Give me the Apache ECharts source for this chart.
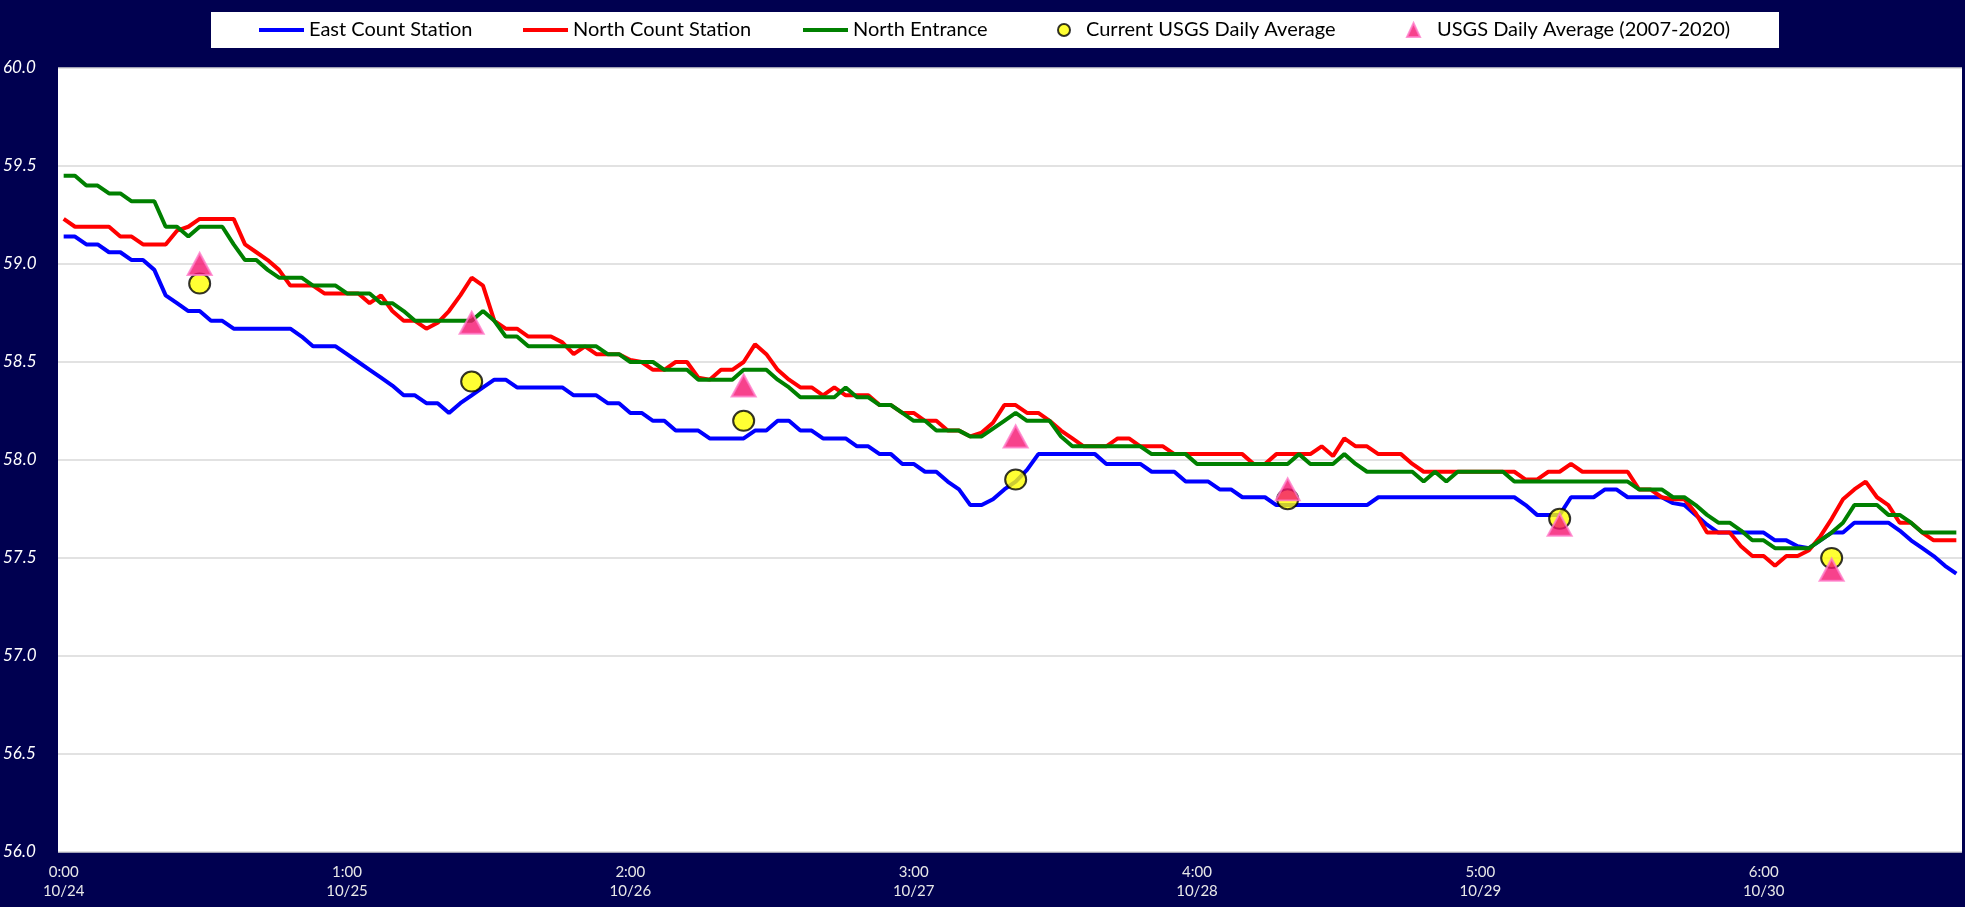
<!DOCTYPE html>
<html>
<head>
<meta charset="utf-8">
<script src="https://cdn.jsdelivr.net/npm/echarts@6/dist/echarts.min.js"></script>
<style>
    html, body { margin: 0; padding: 0; background: #000050; }
    #main { width: 1965px; height: 907px; }
</style>
</head>
<body>
<div id="main"></div>
<script>
// hourly readings, 10/24 0:00 - 10/30 23:00
var hours = [];
for (var d = 0; d < 7; d++) {
    for (var h = 0; h < 24; h++) {
        hours.push('10/' + (24 + d) + ' ' + h + ':00');
    }
}

var eastCount = [
    59.14, 59.14, 59.10, 59.10, 59.06, 59.06, 59.02, 59.02, 58.97, 58.84,
    58.80, 58.76, 58.76, 58.71, 58.71, 58.67, 58.67, 58.67, 58.67, 58.67,
    58.67, 58.63, 58.58, 58.58, 58.58, 58.54, 58.50, 58.46, 58.42, 58.38,
    58.33, 58.33, 58.29, 58.29, 58.24, 58.29, 58.33, 58.37, 58.41, 58.41,
    58.37, 58.37, 58.37, 58.37, 58.37, 58.33, 58.33, 58.33, 58.29, 58.29,
    58.24, 58.24, 58.20, 58.20, 58.15, 58.15, 58.15, 58.11, 58.11, 58.11,
    58.11, 58.15, 58.15, 58.20, 58.20, 58.15, 58.15, 58.11, 58.11, 58.11,
    58.07, 58.07, 58.03, 58.03, 57.98, 57.98, 57.94, 57.94, 57.89, 57.85,
    57.77, 57.77, 57.80, 57.85, 57.89, 57.95, 58.03, 58.03, 58.03, 58.03,
    58.03, 58.03, 57.98, 57.98, 57.98, 57.98, 57.94, 57.94, 57.94, 57.89,
    57.89, 57.89, 57.85, 57.85, 57.81, 57.81, 57.81, 57.77, 57.77, 57.77,
    57.77, 57.77, 57.77, 57.77, 57.77, 57.77, 57.81, 57.81, 57.81, 57.81,
    57.81, 57.81, 57.81, 57.81, 57.81, 57.81, 57.81, 57.81, 57.81, 57.77,
    57.72, 57.72, 57.72, 57.81, 57.81, 57.81, 57.85, 57.85, 57.81, 57.81,
    57.81, 57.81, 57.78, 57.77, 57.72, 57.67, 57.63, 57.63, 57.63, 57.63,
    57.63, 57.59, 57.59, 57.56, 57.55, 57.59, 57.63, 57.63, 57.68, 57.68,
    57.68, 57.68, 57.64, 57.59, 57.55, 57.51, 57.46, 57.42
];

var northCount = [
    59.23, 59.19, 59.19, 59.19, 59.19, 59.14, 59.14, 59.10, 59.10, 59.10,
    59.17, 59.19, 59.23, 59.23, 59.23, 59.23, 59.10, 59.06, 59.02, 58.97,
    58.89, 58.89, 58.89, 58.85, 58.85, 58.85, 58.85, 58.80, 58.84, 58.76,
    58.71, 58.71, 58.67, 58.70, 58.76, 58.84, 58.93, 58.89, 58.71, 58.67,
    58.67, 58.63, 58.63, 58.63, 58.60, 58.54, 58.58, 58.54, 58.54, 58.54,
    58.51, 58.50, 58.46, 58.46, 58.50, 58.50, 58.42, 58.41, 58.46, 58.46,
    58.50, 58.59, 58.54, 58.46, 58.41, 58.37, 58.37, 58.33, 58.37, 58.33,
    58.33, 58.33, 58.28, 58.28, 58.24, 58.24, 58.20, 58.20, 58.15, 58.15,
    58.12, 58.14, 58.19, 58.28, 58.28, 58.24, 58.24, 58.20, 58.15, 58.11,
    58.07, 58.07, 58.07, 58.11, 58.11, 58.07, 58.07, 58.07, 58.03, 58.03,
    58.03, 58.03, 58.03, 58.03, 58.03, 57.98, 57.98, 58.03, 58.03, 58.03,
    58.03, 58.07, 58.02, 58.11, 58.07, 58.07, 58.03, 58.03, 58.03, 57.98,
    57.94, 57.94, 57.94, 57.94, 57.94, 57.94, 57.94, 57.94, 57.94, 57.90,
    57.90, 57.94, 57.94, 57.98, 57.94, 57.94, 57.94, 57.94, 57.94, 57.85,
    57.85, 57.81, 57.80, 57.80, 57.73, 57.63, 57.63, 57.63, 57.56, 57.51,
    57.51, 57.46, 57.51, 57.51, 57.54, 57.61, 57.70, 57.80, 57.85, 57.89,
    57.81, 57.77, 57.68, 57.68, 57.63, 57.59, 57.59, 57.59
];

var northEntrance = [
    59.45, 59.45, 59.40, 59.40, 59.36, 59.36, 59.32, 59.32, 59.32, 59.19,
    59.19, 59.14, 59.19, 59.19, 59.19, 59.10, 59.02, 59.02, 58.97, 58.93,
    58.93, 58.93, 58.89, 58.89, 58.89, 58.85, 58.85, 58.85, 58.80, 58.80,
    58.76, 58.71, 58.71, 58.71, 58.71, 58.71, 58.71, 58.76, 58.71, 58.63,
    58.63, 58.58, 58.58, 58.58, 58.58, 58.58, 58.58, 58.58, 58.54, 58.54,
    58.50, 58.50, 58.50, 58.46, 58.46, 58.46, 58.41, 58.41, 58.41, 58.41,
    58.46, 58.46, 58.46, 58.41, 58.37, 58.32, 58.32, 58.32, 58.32, 58.37,
    58.32, 58.32, 58.28, 58.28, 58.24, 58.20, 58.20, 58.15, 58.15, 58.15,
    58.12, 58.12, 58.16, 58.20, 58.24, 58.20, 58.20, 58.20, 58.12, 58.07,
    58.07, 58.07, 58.07, 58.07, 58.07, 58.07, 58.03, 58.03, 58.03, 58.03,
    57.98, 57.98, 57.98, 57.98, 57.98, 57.98, 57.98, 57.98, 57.98, 58.03,
    57.98, 57.98, 57.98, 58.03, 57.98, 57.94, 57.94, 57.94, 57.94, 57.94,
    57.89, 57.94, 57.89, 57.94, 57.94, 57.94, 57.94, 57.94, 57.89, 57.89,
    57.89, 57.89, 57.89, 57.89, 57.89, 57.89, 57.89, 57.89, 57.89, 57.85,
    57.85, 57.85, 57.81, 57.81, 57.77, 57.72, 57.68, 57.68, 57.64, 57.59,
    57.59, 57.55, 57.55, 57.55, 57.55, 57.59, 57.63, 57.68, 57.77, 57.77,
    57.77, 57.72, 57.72, 57.68, 57.63, 57.63, 57.63, 57.63
];

// daily averages, plotted at noon
var usgsTimes = ['10/24 12:00', '10/25 12:00', '10/26 12:00', '10/27 12:00', '10/28 12:00', '10/29 12:00', '10/30 12:00'];
var usgsCurrent = [58.90, 58.40, 58.20, 57.90, 57.80, 57.70, 57.50];
var usgsHistoric = [59.00, 58.70, 58.38, 58.12, 57.85, 57.67, 57.44];

var yTicks = { min: 56, max: 60, interval: 0.5 };

function pairs(times, vals) {
    var res = [];
    for (var i = 0; i < vals.length; i++) res.push([times[i], vals[i]]);
    return res;
}

// one legend per item so each one sits where the original has it
function legendItem(name, left, w, h, icon, padLeft) {
    var lg = {
        data: [name],
        left: left,
        top: 20,
        padding: 0,
        itemWidth: w,
        itemHeight: h,
        selectedMode: false,
        textStyle: { fontFamily: 'Lato', fontSize: 20, color: '#000', padding: [0, 0, 0, padLeft || 0] }
    };
    if (icon) lg.icon = icon;
    return lg;
}

var myChart = echarts.init(document.getElementById('main'));
var option = {
    animation: false,
    backgroundColor: '#000050',
    graphic: [{
        type: 'rect',
        shape: { x: 211, y: 12, width: 1568, height: 36 },
        style: { fill: '#ffffff' },
        z: -1
    }],
    legend: [
        legendItem('East Count Station', 259, 45, 4, 'rect'),
        legendItem('North Count Station', 523, 45, 4, 'rect'),
        legendItem('North Entrance', 803, 45, 4, 'rect'),
        legendItem('Current USGS Daily Average', 1057, 12, 12, null, 11),
        legendItem('USGS Daily Average (2007-2020)', 1406, 13, 14, null, 12)
    ],
    grid: {
        left: 58, right: 3, top: 68, bottom: 55,
        show: true, backgroundColor: '#ffffff', borderWidth: 0
    },
    xAxis: {
        type: 'category',
        data: hours,
        boundaryGap: true,
        axisLine: { show: false },
        axisTick: { show: false },
        axisLabel: {
            interval: 24,
            margin: 11,
            color: '#e8e8e8',
            fontFamily: 'Lato',
            fontSize: 15,
            lineHeight: 19,
            formatter: function (v) {
                var p = v.split(' ');
                return p[1] + '\n' + p[0];
            }
        }
    },
    yAxis: {
        type: 'value',
        min: yTicks.min,
        max: yTicks.max,
        interval: yTicks.interval,
        axisLine: { show: false },
        axisTick: { show: false },
        splitLine: { lineStyle: { color: '#d9d9d9', width: 1.5 } },
        axisLabel: {
            align: 'left',
            margin: 55,
            color: '#ffffff',
            fontStyle: 'italic',
            fontFamily: 'Lato',
            fontSize: 17,
            formatter: function (v) { return v.toFixed(1); }
        }
    },
    series: [
        {
            name: 'East Count Station',
            type: 'line',
            data: eastCount,
            symbol: 'none',
            lineStyle: { color: '#0000ff', width: 4 },
            itemStyle: { color: '#0000ff' }
        },
        {
            name: 'North Count Station',
            type: 'line',
            data: northCount,
            symbol: 'none',
            lineStyle: { color: '#ff0000', width: 4 },
            itemStyle: { color: '#ff0000' }
        },
        {
            name: 'North Entrance',
            type: 'line',
            data: northEntrance,
            symbol: 'none',
            lineStyle: { color: '#008000', width: 4 },
            itemStyle: { color: '#008000' }
        },
        {
            name: 'Current USGS Daily Average',
            type: 'scatter',
            data: pairs(usgsTimes, usgsCurrent),
            symbol: 'circle',
            symbolSize: [21, 20],
            itemStyle: { color: '#ffff00', borderColor: '#000000', borderWidth: 2 },
            z: 3
        },
        {
            name: 'USGS Daily Average (2007-2020)',
            type: 'scatter',
            data: pairs(usgsTimes, usgsHistoric),
            symbol: 'triangle',
            symbolSize: [24, 22],
            itemStyle: { color: '#f5136f', borderColor: '#ff7ac8', borderWidth: 2 },
            z: 4
        }
    ]
};
myChart.setOption(option);
</script>
</body>
</html>
